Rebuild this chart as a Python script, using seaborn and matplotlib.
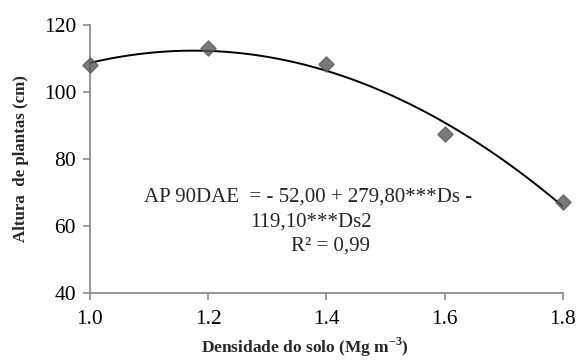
import numpy as np
import pandas as pd
import matplotlib
matplotlib.use("Agg")
import matplotlib.pyplot as plt
import seaborn as sns

densidade = [1.0, 1.2, 1.4, 1.6, 1.8]
altura = [108.0, 113.0, 108.3, 87.5, 67.2]
x_ticks = [1.0, 1.2, 1.4, 1.6, 1.8]
y_ticks = [40, 60, 80, 100, 120]

sns.set_theme(style="white")
plt.rcParams['font.family'] = ['Liberation Serif', 'DejaVu Serif']
plt.rcParams['mathtext.fontset'] = 'custom'
plt.rcParams['mathtext.rm'] = 'Liberation Serif'
plt.rcParams['mathtext.bf'] = 'Liberation Serif:bold'

df = pd.DataFrame({"Ds": densidade, "AP": altura})

fig = plt.figure(figsize=(5.78, 3.61), dpi=100)
ax = fig.add_axes([0.1557, 0.1884, 0.8183, 0.7423])

sns.regplot(data=df, x="Ds", y="AP", order=2, ci=None, ax=ax, marker="D",
            scatter_kws=dict(s=60, color="#595959", edgecolor="#595959", zorder=3, clip_on=False),
            line_kws=dict(color="black", lw=1.4, zorder=2))

ax.set_xlim(1.0, 1.8)
ax.set_ylim(40, 120)
ax.set_xticks(x_ticks)
ax.set_xticklabels([f"{v:.1f}" for v in x_ticks])
ax.set_yticks(y_ticks)
ax.tick_params(axis="both", labelsize=15.5, colors="black", length=5, width=1.2, direction="out",
               bottom=True, left=True, color="#8c8c8c")
ax.tick_params(axis="x", pad=7)
ax.tick_params(axis="y", pad=5)
for s in ["top", "right"]:
    ax.spines[s].set_visible(False)
for s in ["left", "bottom"]:
    ax.spines[s].set_color("#8c8c8c")
    ax.spines[s].set_linewidth(1.3)

ax.set_xlabel("")
ax.set_ylabel("")
fig.text(0.528, 0.006, r"Densidade do solo (Mg m$^{\mathbf{-3}}$)", ha="center", va="bottom",
         fontsize=12.5, fontweight="bold")
fig.text(0.036, 0.56, "Altura  de plantas (cm)", ha="center", va="center", rotation=90,
         fontsize=12.2, fontweight="bold")

ax.text(1.369, 68.7, "AP 90DAE  = - 52,00 + 279,80***Ds -", ha="center", va="center", fontsize=15)
ax.text(1.373, 61.3, "119,10***Ds2", ha="center", va="center", fontsize=15)
ax.text(1.407, 54.0, "R² = 0,99", ha="center", va="center", fontsize=15)

fig.savefig("out.png", dpi=100)
